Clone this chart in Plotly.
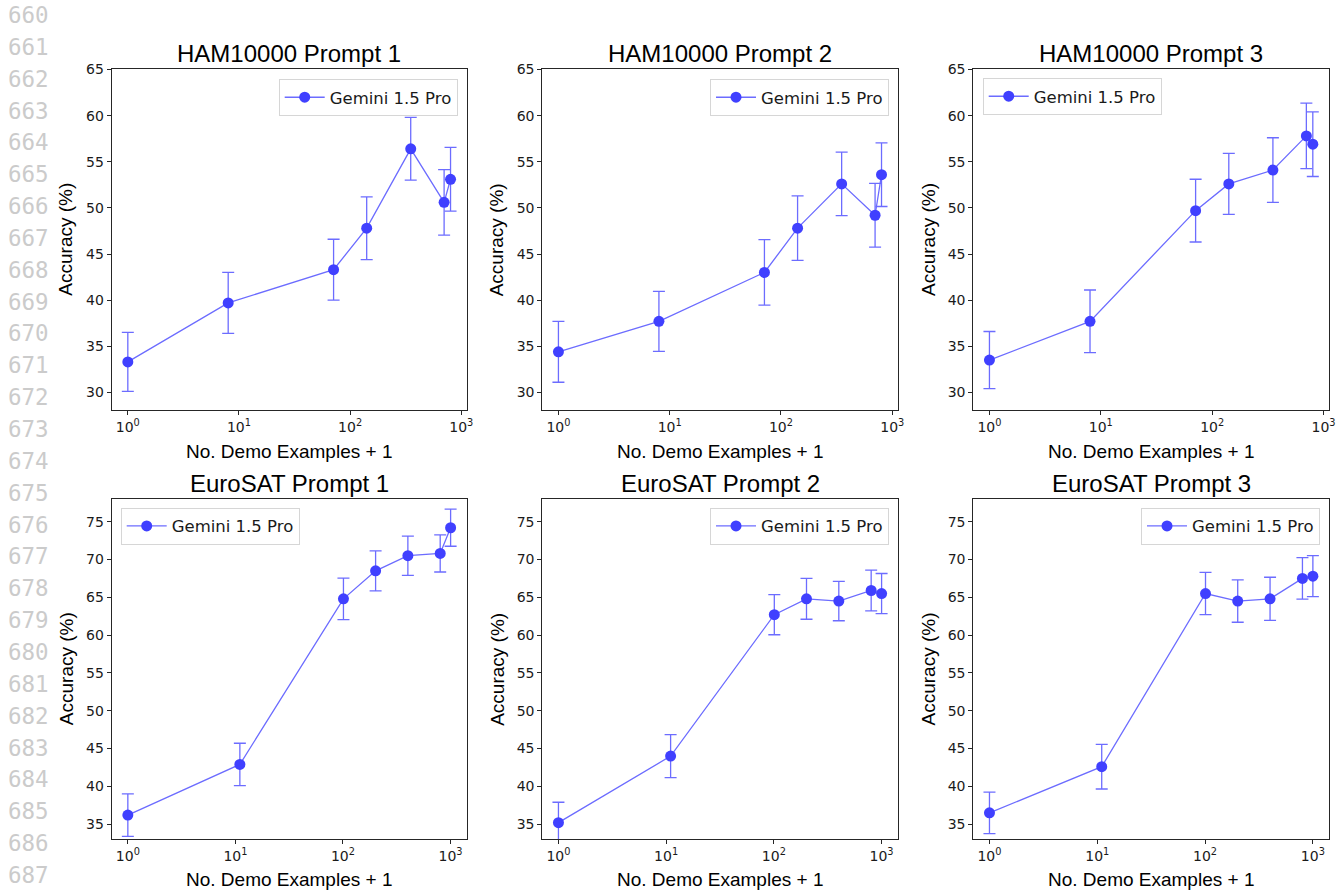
import plotly.graph_objects as go

W, H = 1344, 892

# ---------------- data ----------------
ham_x = [1, 8, 71, 141, 351, 701, 801]
euro_x = [1, 11, 101, 201, 401, 801, 1001]

ham_p1 = [33.3, 39.7, 43.3, 47.8, 56.4, 50.6, 53.1]
ham_p1_err = [3.2, 3.3, 3.3, 3.4, 3.4, 3.55, 3.45]
ham_p2 = [34.4, 37.7, 43.0, 47.8, 52.6, 49.2, 53.6]
ham_p2_err = [3.3, 3.25, 3.55, 3.5, 3.45, 3.45, 3.45]
ham_p3 = [33.5, 37.7, 49.7, 52.6, 54.1, 57.8, 56.9]
ham_p3_err = [3.1, 3.4, 3.4, 3.3, 3.5, 3.55, 3.5]

euro_p1 = [36.2, 42.9, 64.8, 68.5, 70.5, 70.8, 74.2]
euro_p1_err = [2.8, 2.8, 2.75, 2.65, 2.6, 2.45, 2.45]
euro_p2 = [35.2, 44.0, 62.7, 64.8, 64.5, 65.9, 65.5]
euro_p2_err = [2.7, 2.85, 2.65, 2.7, 2.6, 2.7, 2.65]
euro_p3 = [36.5, 42.6, 65.5, 64.5, 64.8, 67.5, 67.8]
euro_p3_err = [2.75, 2.95, 2.8, 2.8, 2.85, 2.75, 2.7]

titles = ["HAM10000 Prompt 1", "HAM10000 Prompt 2", "HAM10000 Prompt 3",
          "EuroSAT Prompt 1", "EuroSAT Prompt 2", "EuroSAT Prompt 3"]
series_name = "Gemini 1.5 Pro"
x_label = "No. Demo Examples + 1"
y_label = "Accuracy (%)"
x_tickvals = [1, 10, 100, 1000]
x_ticktext = ["10<sup>0</sup>", "10<sup>1</sup>", "10<sup>2</sup>", "10<sup>3</sup>"]
ham_yticks = [30, 35, 40, 45, 50, 55, 60, 65]
euro_yticks = [35, 40, 45, 50, 55, 60, 65, 70, 75]
line_numbers = list(range(660, 688))

panels = [
    (ham_x, ham_p1, ham_p1_err), (ham_x, ham_p2, ham_p2_err), (ham_x, ham_p3, ham_p3_err),
    (euro_x, euro_p1, euro_p1_err), (euro_x, euro_p2, euro_p2_err), (euro_x, euro_p3, euro_p3_err),
]

# ---------------- layout geometry (pixels) ----------------
col_px = [(111.7, 466.7), (542.3, 897.7), (973.3, 1329.0)]
row_px = [(69.3, 410.0), (499.0, 839.3)]
ylab_x = [66.0, 496.7, 928.3]
title_y = [53.0, 483.3]
xlab_y = [451.7, 879.3]
# legend: (x px, anchor, top px)
legend_pos = [
    (457.7, "right", 79.0), (889.0, "right", 79.0), (982.7, "left", 78.0),
    (120.7, "left", 507.7), (889.0, "right", 507.7), (1320.0, "right", 507.7),
]
x_ranges = [[-0.145, 3.049], [-0.150, 3.150]]
y_ranges = [[28.09, 65.02], [33.0, 78.0]]

MARKER = "#4040ff"
LINE = "#6c6cff"
AXC = "#262626"

fig = go.Figure()
layout = dict(
    width=W, height=H,
    margin=dict(l=0, r=0, t=0, b=0, autoexpand=False),
    paper_bgcolor="white", plot_bgcolor="white",
    showlegend=True,
    annotations=[],
)

def px2x(p):
    return p / W

def px2y(p):
    return 1 - p / H

for i, (xs, ys, es) in enumerate(panels):
    r, c = divmod(i, 3)
    n = "" if i == 0 else str(i + 1)
    leg = "legend" if i == 0 else f"legend{i + 1}"
    fig.add_trace(go.Scatter(
        x=xs, y=ys, mode="lines+markers", name=series_name,
        xaxis=f"x{n}", yaxis=f"y{n}", legend=leg,
        line=dict(color=LINE, width=1.3),
        marker=dict(color=MARKER, size=11),
        error_y=dict(type="data", array=es, visible=True, color=LINE, thickness=1.3, width=6),
    ))
    x0, x1 = col_px[c]
    yt, yb = row_px[r]
    layout[f"xaxis{n}"] = dict(
        domain=[px2x(x0), px2x(x1)], anchor=f"y{n}", type="log", automargin=False,
        range=x_ranges[r], tickvals=x_tickvals, ticktext=x_ticktext,
        showline=True, mirror=True, linecolor=AXC, linewidth=1,
        ticks="outside", ticklen=4, tickcolor=AXC, showgrid=False, zeroline=False,
        tickfont=dict(family="DejaVu Sans", size=14, color="#1a1a1a"),
    )
    layout[f"yaxis{n}"] = dict(
        domain=[px2y(yb), px2y(yt)], anchor=f"x{n}", automargin=False,
        range=y_ranges[r], tickvals=ham_yticks if r == 0 else euro_yticks,
        showline=True, mirror=True, linecolor=AXC, linewidth=1,
        ticks="outside", ticklen=4, tickcolor=AXC, showgrid=False, zeroline=False,
        tickfont=dict(family="DejaVu Sans", size=14, color="#1a1a1a"),
    )
    lx, lanchor, ltop = legend_pos[i]
    layout[leg] = dict(
        x=px2x(lx), xanchor=lanchor, y=px2y(ltop), yanchor="top",
        xref="paper", yref="paper", itemwidth=40,
        bgcolor="white", bordercolor="#d6d6d6", borderwidth=1,
        font=dict(family="DejaVu Sans", size=16.5, color="#1a1a1a"),
    )
    cx = (x0 + x1) / 2
    layout["annotations"].append(dict(
        text=titles[i], x=px2x(cx), y=px2y(title_y[r]), xref="paper", yref="paper",
        xanchor="center", yanchor="middle", showarrow=False,
        font=dict(family="Liberation Sans, Arial", size=24, color="black"),
    ))
    layout["annotations"].append(dict(
        text=x_label, x=px2x(cx), y=px2y(xlab_y[r]), xref="paper", yref="paper",
        xanchor="center", yanchor="middle", showarrow=False,
        font=dict(family="Liberation Sans, Arial", size=19, color="black"),
    ))
    layout["annotations"].append(dict(
        text=y_label, x=px2x(ylab_x[c]), y=px2y((yt + yb) / 2), xref="paper", yref="paper",
        xanchor="center", yanchor="middle", showarrow=False, textangle=-90,
        font=dict(family="Liberation Sans, Arial", size=19, color="black"),
    ))

for k, num in enumerate(line_numbers):
    layout["annotations"].append(dict(
        text=str(num), x=px2x(6), y=px2y(15 + k * 31.85), xref="paper", yref="paper",
        xanchor="left", yanchor="middle", showarrow=False,
        font=dict(family="DejaVu Sans Mono", size=22.5, color="#cbcbcb"),
    ))

fig.update_layout(**layout)
fig.write_html(
    "out.html",
    config={"displayModeBar": False},
    post_script="document.documentElement.style.margin='0';"
                "document.body.style.margin='0';"
                "document.body.style.padding='0';"
                "document.body.style.overflow='hidden';",
)
